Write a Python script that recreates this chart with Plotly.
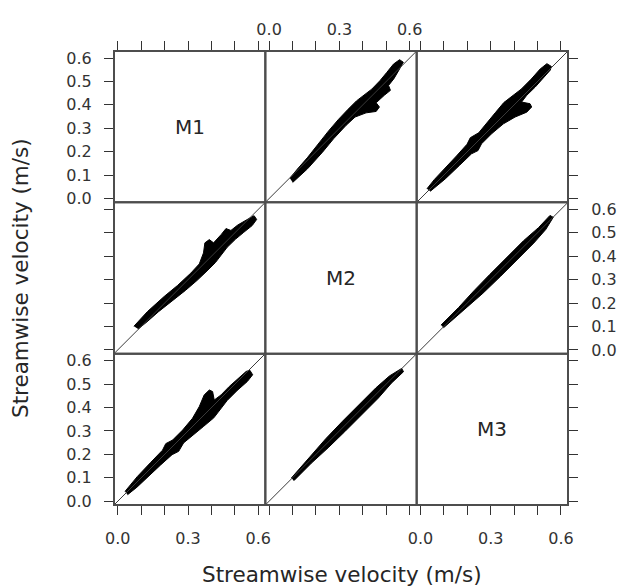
import plotly.graph_objects as go

# Variables compared in the scatterplot matrix (diagonal labels)
variables = ["M1", "M2", "M3"]

# Shared axis limits and ticks (m/s)
axis_range = [-0.016, 0.630]
tick_values = [0.0, 0.1, 0.2, 0.3, 0.4, 0.5, 0.6]
x_tick_labels = ["0.0", "", "", "0.3", "", "", "0.6"]
y_tick_labels = ["0.0", "0.1", "0.2", "0.3", "0.4", "0.5", "0.6"]
axis_title = "Streamwise velocity (m/s)"

# Outline of the dense point cloud for each pair of variables (m/s)
m1_m2_cloud_m1 = [0.069, 0.127, 0.198, 0.255, 0.312, 0.348, 0.366, 0.372, 0.391, 0.409,
                  0.441, 0.462, 0.483, 0.512, 0.548, 0.582, 0.593, 0.574, 0.538, 0.503,
                  0.467, 0.438, 0.417, 0.381, 0.339, 0.289, 0.232, 0.174, 0.125, 0.087]
m1_m2_cloud_m2 = [0.101, 0.164, 0.228, 0.275, 0.328, 0.367, 0.414, 0.457, 0.471, 0.457,
                  0.492, 0.518, 0.510, 0.533, 0.554, 0.573, 0.557, 0.531, 0.502, 0.473,
                  0.438, 0.402, 0.373, 0.337, 0.297, 0.254, 0.209, 0.163, 0.120, 0.089]

m1_m3_cloud_m1 = [0.031, 0.084, 0.141, 0.191, 0.205, 0.234, 0.277, 0.319, 0.348, 0.369,
                  0.391, 0.405, 0.412, 0.441, 0.476, 0.512, 0.548, 0.564, 0.576, 0.553,
                  0.510, 0.467, 0.438, 0.410, 0.367, 0.324, 0.281, 0.260, 0.232, 0.182,
                  0.132, 0.082, 0.042]
m1_m3_cloud_m3 = [0.042, 0.106, 0.166, 0.218, 0.246, 0.261, 0.304, 0.354, 0.404, 0.454,
                  0.475, 0.468, 0.432, 0.454, 0.490, 0.523, 0.554, 0.559, 0.540, 0.511,
                  0.473, 0.430, 0.392, 0.356, 0.320, 0.285, 0.249, 0.213, 0.199, 0.154,
                  0.107, 0.060, 0.028]

m2_m3_cloud_m2 = [0.095, 0.171, 0.242, 0.313, 0.385, 0.456, 0.514, 0.566,
                  0.574, 0.522, 0.466, 0.395, 0.323, 0.252, 0.181, 0.106]
m2_m3_cloud_m3 = [0.099, 0.188, 0.267, 0.341, 0.414, 0.484, 0.535, 0.567,
                  0.553, 0.504, 0.440, 0.367, 0.297, 0.228, 0.163, 0.088]

clouds = {
    ("M1", "M2"): {"M1": m1_m2_cloud_m1, "M2": m1_m2_cloud_m2},
    ("M1", "M3"): {"M1": m1_m3_cloud_m1, "M3": m1_m3_cloud_m3},
    ("M2", "M3"): {"M2": m2_m3_cloud_m2, "M3": m2_m3_cloud_m3},
}

frame_color = "#4d4d4d"
tick_color = "#333333"
text_color = "#262626"
font_family = "DejaVu Sans"
tick_font = dict(family=font_family, size=16, color="#333333")
blank_labels = [""] * len(tick_values)

fig = go.Figure()
layout_axes = {}
annotations = []
shapes = []

n = len(variables)
for r in range(n):
    for c in range(n):
        k = r * n + c + 1
        sx = "" if k == 1 else str(k)
        xref, yref = "x" + sx, "y" + sx

        xa = dict(domain=[c / n, (c + 1) / n], range=axis_range, anchor=yref,
                  automargin=False, showline=False, showgrid=False, zeroline=False,
                  tickvals=tick_values, ticklen=9, tickwidth=1, tickcolor=tick_color,
                  tickfont=tick_font)
        if r == 0:
            xa.update(side="top", ticks="outside", ticklabelstandoff=0,
                      ticktext=x_tick_labels if c == 1 else blank_labels)
        elif r == n - 1:
            xa.update(side="bottom", ticks="outside", ticklabelstandoff=10,
                      ticktext=x_tick_labels if c != 1 else blank_labels)
        else:
            xa.update(ticks="", showticklabels=False)

        ya = dict(domain=[(n - 1 - r) / n, (n - r) / n], range=axis_range, anchor=xref,
                  automargin=False, showline=False, showgrid=False, zeroline=False,
                  tickvals=tick_values, ticklen=9, tickwidth=1, tickcolor=tick_color,
                  tickfont=tick_font)
        if c == 0:
            ya.update(side="left", ticks="outside", ticklabelstandoff=9,
                      ticktext=y_tick_labels if r != 1 else blank_labels)
        elif c == n - 1:
            ya.update(side="right", ticks="outside", ticklabelstandoff=10,
                      ticktext=y_tick_labels if r == 1 else blank_labels)
        else:
            ya.update(ticks="", showticklabels=False)

        layout_axes["xaxis" + sx] = xa
        layout_axes["yaxis" + sx] = ya

        # panel frame
        shapes.append(dict(type="rect", xref=xref + " domain", yref=yref + " domain",
                           x0=0, x1=1, y0=0, y1=1, layer="above",
                           line=dict(color=frame_color, width=2)))

        if r == c:
            # diagonal panel: empty trace so the panel and its axes are drawn
            fig.add_trace(go.Scatter(x=[None], y=[None], xaxis=xref, yaxis=yref,
                                     mode="markers", hoverinfo="skip"))
            annotations.append(dict(text=variables[r], xref=xref + " domain",
                                    yref=yref + " domain", x=0.5, y=0.5,
                                    showarrow=False,
                                    font=dict(family=font_family, size=20, color=text_color)))
            continue

        vx, vy = variables[c], variables[r]
        pair = clouds[tuple(sorted((vx, vy)))]
        fig.add_trace(go.Scatter(x=pair[vx], y=pair[vy], xaxis=xref, yaxis=yref,
                                 mode="lines", fill="toself", fillcolor="black",
                                 line=dict(color="black", width=1),
                                 hoverinfo="skip"))
        # 1:1 reference line
        fig.add_trace(go.Scatter(x=axis_range, y=axis_range, xaxis=xref, yaxis=yref,
                                 mode="lines", line=dict(color="#3a3a3a", width=1),
                                 hoverinfo="skip"))

annotations.append(dict(text=axis_title, xref="paper", yref="paper", x=0.502, y=-0.154,
                        xanchor="center", yanchor="middle", showarrow=False,
                        font=dict(family=font_family, size=21.5, color=text_color)))
annotations.append(dict(text=axis_title, xref="paper", yref="paper", x=-0.207, y=0.5,
                        xanchor="center", yanchor="middle", textangle=-90, showarrow=False,
                        font=dict(family=font_family, size=21.5, color=text_color)))

fig.update_layout(
    width=620, height=588,
    margin=dict(l=114, r=52, t=51, b=83),
    plot_bgcolor="white", paper_bgcolor="white",
    showlegend=False,
    annotations=annotations,
    shapes=shapes,
    **layout_axes,
)

fig.write_html("out.html")
